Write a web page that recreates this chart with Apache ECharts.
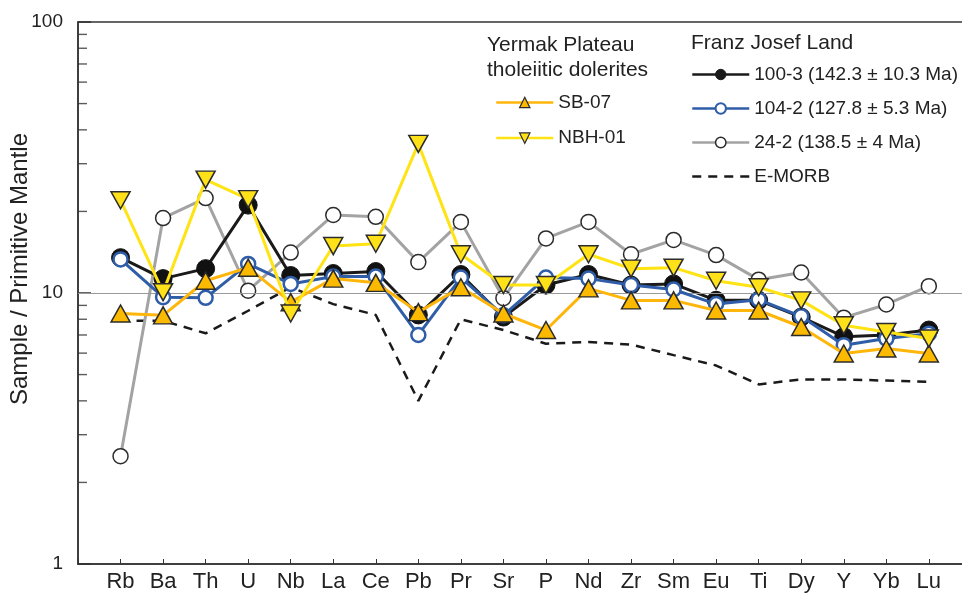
<!DOCTYPE html>
<html>
<head>
<meta charset="utf-8">
<script src="https://cdn.jsdelivr.net/npm/echarts@6/dist/echarts.min.js"></script>
<style>
html,body{margin:0;padding:0;background:#fff;}
#c{width:962px;height:601px;}
</style>
</head>
<body>
<div id="c"></div>
<script>
const categories = ['Rb','Ba','Th','U','Nb','La','Ce','Pb','Pr','Sr','P','Nd','Zr','Sm','Eu','Ti','Dy','Y','Yb','Lu'];
const s100_3 = [13.5, 11.3, 12.3, 21.1, 11.6, 11.8, 12.0, 8.3, 11.7, 8.15, 10.7, 11.7, 10.7, 10.8, 9.4, 9.4, 8.15, 6.9, 7.0, 7.3];
const s104_2 = [13.3, 9.65, 9.6, 12.8, 10.8, 11.5, 11.5, 7.0, 11.4, 8.27, 11.4, 11.3, 10.7, 10.3, 9.1, 9.45, 8.2, 6.42, 6.79, 7.08];
const s24_2 = [2.5, 18.9, 22.4, 10.2, 14.1, 19.4, 19.1, 13.0, 18.3, 9.57, 15.9, 18.3, 13.9, 15.7, 13.8, 11.2, 11.9, 8.11, 9.07, 10.6];
const sSB07 = [8.4, 8.27, 11.1, 12.4, 9.25, 11.3, 10.9, 8.5, 10.5, 8.4, 7.3, 10.4, 9.39, 9.39, 8.62, 8.62, 7.49, 5.98, 6.24, 5.98];
const sNBH01 = [22.0, 10.07, 26.2, 22.2, 8.4, 14.9, 15.2, 35.5, 13.9, 10.7, 10.7, 13.9, 12.3, 12.4, 11.1, 10.5, 9.39, 7.6, 7.18, 6.79];
const sEMORB = [7.9, 7.9, 7.1, 8.6, 10.5, 9.1, 8.3, 4.0, 8.0, 7.3, 6.5, 6.6, 6.45, 5.9, 5.4, 4.6, 4.8, 4.8, 4.75, 4.7];
const yMinorTicks = [2,3,4,5,6,7,8,9,20,30,40,50,60,70,80,90];
const names = {
  a: '100-3 (142.3 ± 10.3 Ma)',
  b: '104-2 (127.8 ± 5.3 Ma)',
  c: '24-2 (138.5 ± 4 Ma)',
  e: 'E-MORB',
  s: 'SB-07',
  n: 'NBH-01'
};

const FONT = "'Liberation Sans', Arial, sans-serif";
const cBlack = '#1a1a1a', cBlue = '#2f5da8', cGray = '#a3a3a3', cOrange = '#ffb60a', cOrangeFill = '#fbb900', cYellow = '#ffe312', cYellowFill = '#ffe11a', cEdge = '#2b2b2b';

function pts(arr){ return arr.map((v,i)=>[i,v]); }

const chart = echarts.init(document.getElementById('c'), null, {renderer:'canvas'});
const option = {
  animation: false,
  backgroundColor: '#fff',
  textStyle: {fontFamily: FONT},
  grid: {left: 78, right: -3, top: 22, bottom: 37, show: true, borderColor: '#333', borderWidth: 1.5, backgroundColor: 'transparent', containLabel: false, outerBoundsMode: 'none'},
  xAxis: {
    type: 'value', min: -1, max: 19.85, interval: 1,
    axisLine: {show: true, onZero: false, lineStyle: {color: '#333', width: 1.5}},
    axisTick: {show: true, inside: true, length: 5, lineStyle: {color: '#333', width: 1}},
    axisLabel: {
      fontSize: 22, color: '#222', margin: 7, fontFamily: FONT,
      formatter: function(v){ return (Number.isInteger(v) && v >= 0 && v < categories.length) ? categories[v] : ''; }
    },
    splitLine: {show: false}
  },
  yAxis: {
    type: 'log', logBase: 10, min: 1, max: 100,
    name: 'Sample / Primitive Mantle', nameLocation: 'middle', nameGap: 46, nameMoveOverlap: false,
    nameTextStyle: {fontSize: 24, color: '#222', fontFamily: FONT, padding: [0, 0, 0, 48]},
    axisLine: {show: true, onZero: false, lineStyle: {color: '#333', width: 1.5}},
    axisTick: {show: true, inside: true, length: 13, lineStyle: {color: '#333', width: 1.5}},
    axisLabel: {fontSize: 19, color: '#222', margin: 15, fontFamily: FONT},
    splitLine: {show: false}
  },
  legend: [
    {
      orient: 'vertical', left: 495, top: 93, padding: 0, itemGap: 16.6,
      itemWidth: 57, itemHeight: 13,
      textStyle: {fontSize: 19, color: '#222', fontFamily: FONT},
      lineStyle: {width: 2.5},
      data: [
        {name: names.s, itemStyle: {color: cOrangeFill, borderColor: cEdge, borderWidth: 1.2}},
        {name: names.n, itemStyle: {color: cYellowFill, borderColor: cEdge, borderWidth: 1.2}}
      ]
    },
    {
      orient: 'vertical', left: 691, top: 65, padding: 0, itemGap: 15,
      itemWidth: 57, itemHeight: 13,
      textStyle: {fontSize: 19, color: '#222', fontFamily: FONT},
      lineStyle: {width: 2.5},
      data: [
        {name: names.a, itemStyle: {color: cBlack, borderColor: cBlack, borderWidth: 1}},
        {name: names.b, itemStyle: {color: '#fff', borderColor: cBlue, borderWidth: 2}},
        {name: names.c, itemStyle: {color: '#fff', borderColor: cEdge, borderWidth: 1.5}},
        {name: names.e, itemStyle: {opacity: 0}}
      ]
    }
  ],
  graphic: [
    {type: 'text', left: 487, top: 33, style: {text: 'Yermak Plateau\ntholeiitic dolerites', font: "21px " + FONT, fill: '#222', lineHeight: 25}},
    {type: 'text', left: 691, top: 33, style: {text: 'Franz Josef Land', font: "21px " + FONT, fill: '#222'}}
  ],
  series: [
    {
      name: 'minor-ticks', type: 'scatter', silent: true, clip: false, z: 10,
      symbol: 'rect', symbolSize: [9, 1.4], symbolOffset: [4.5, 0],
      itemStyle: {color: '#333'},
      data: yMinorTicks.map(v => [-1, v])
    },
    {
      name: names.e, type: 'line', data: pts(sEMORB), symbol: 'none', z: 2,
      lineStyle: {color: '#1a1a1a', width: 2.5, type: [9, 7]},
      markLine: {silent: true, symbol: 'none', label: {show: false},
        lineStyle: {color: '#9a9a9a', width: 1.2, type: 'solid'},
        data: [{yAxis: 10}]}
    },
    {
      name: names.c, type: 'line', data: pts(s24_2), z: 3,
      symbol: 'circle', symbolSize: 15,
      lineStyle: {color: cGray, width: 3},
      itemStyle: {color: '#fff', borderColor: cEdge, borderWidth: 1.5}
    },
    {
      name: names.a, type: 'line', data: pts(s100_3), z: 4,
      symbol: 'circle', symbolSize: 18,
      lineStyle: {color: cBlack, width: 3},
      itemStyle: {color: '#111', borderColor: '#111', borderWidth: 1}
    },
    {
      name: names.b, type: 'line', data: pts(s104_2), z: 5,
      symbol: 'circle', symbolSize: 14,
      lineStyle: {color: cBlue, width: 3},
      itemStyle: {color: '#fff', borderColor: cBlue, borderWidth: 2.5}
    },
    {
      name: names.s, type: 'line', data: pts(sSB07), z: 6,
      symbol: 'triangle', symbolSize: [19, 17],
      lineStyle: {color: cOrange, width: 3},
      itemStyle: {color: cOrangeFill, borderColor: cEdge, borderWidth: 1.5}
    },
    {
      name: names.n, type: 'line', data: pts(sNBH01), z: 7,
      symbol: 'triangle', symbolSize: [19, 17], symbolRotate: 180,
      lineStyle: {color: cYellow, width: 3},
      itemStyle: {color: cYellowFill, borderColor: cEdge, borderWidth: 1.5}
    }
  ]
};
chart.setOption(option);
</script>
</body>
</html>
